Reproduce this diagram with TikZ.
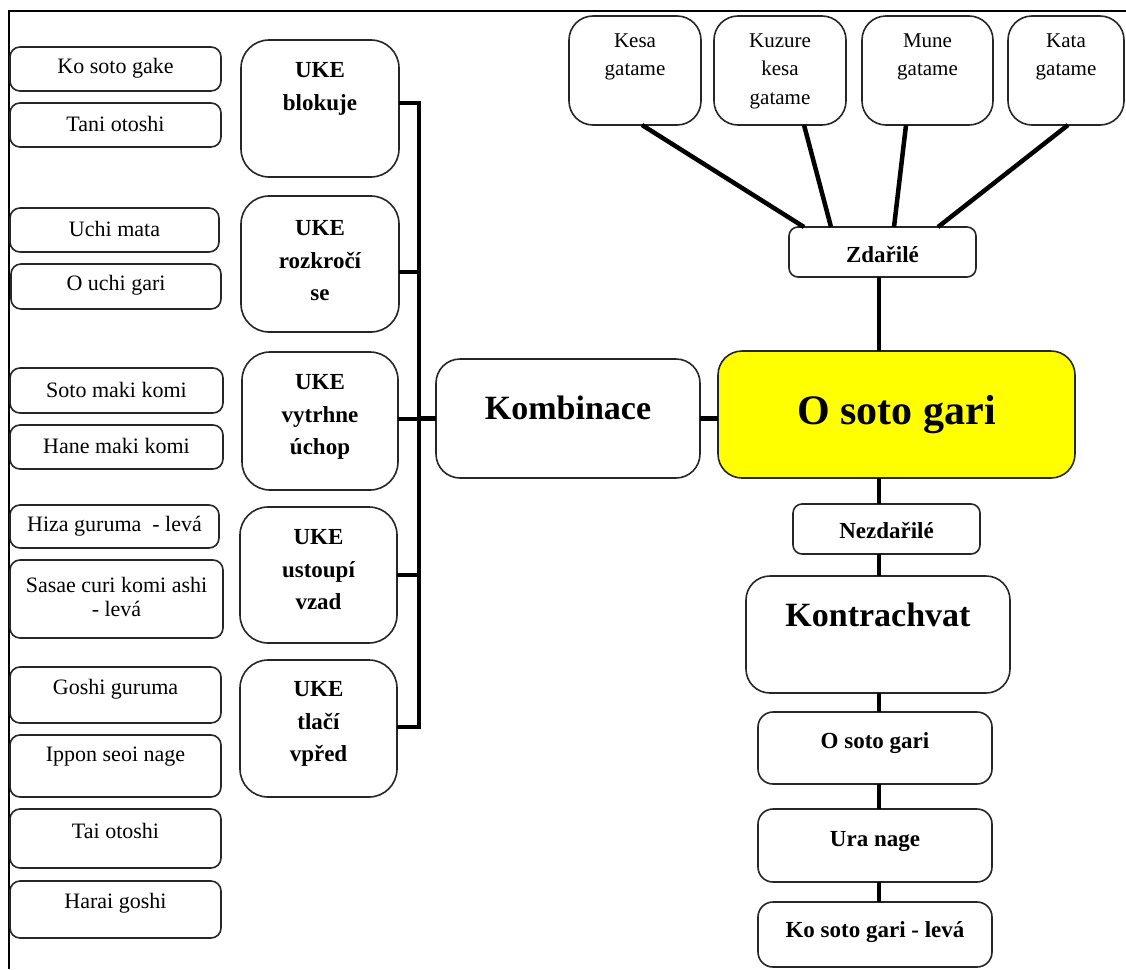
\documentclass[tikz,border=0pt]{standalone}
\usepackage{fontspec}
\setmainfont{Liberation Serif}
\usetikzlibrary{calc}
% #1 box style, #2 text style, #3 name, #4-#7 corners (x1,y1,x2,y2), #8 text centre y, #9 text
\newcommand\rbox[9]{%
  \node[#1, minimum width={#6-#4}, minimum height={#7-#5}] (#3) at ({(#4+#6)/2},{(#5+#7)/2}) {};
  \node[#2] (#3-t) at ({(#4+#6)/2},#8) {#9};}
\begin{document}
\begin{tikzpicture}[x=1pt,y=-1pt,
  box/.style={draw=black!85, line width=1.6pt, fill=white, inner sep=0pt, outer sep=0pt},
  lbox/.style={box, rounded corners=10pt},
  ubox/.style={box, rounded corners=28pt},
  topbox/.style={box, rounded corners=24pt},
  cbox/.style={box, rounded corners=24pt},
  mbox/.style={box, rounded corners=24pt, fill={rgb,255:red,255;green,255;blue,0}},
  sbox/.style={box, rounded corners=9pt},
  rbox/.style={box, rounded corners=15pt},
  txtL/.style={font=\fontsize{22}{24}\selectfont, align=center, inner sep=0pt},
  txtT/.style={font=\fontsize{21}{28.5}\selectfont, align=center, inner sep=0pt},
  txtU/.style={font=\bfseries\fontsize{23}{32.5}\selectfont, align=center, inner sep=0pt},
  txtS/.style={font=\bfseries\fontsize{23}{26}\selectfont, align=center, inner sep=0pt},
  txtK/.style={font=\bfseries\fontsize{34}{38}\selectfont, align=center, inner sep=0pt},
  txtM/.style={font=\bfseries\fontsize{42}{46}\selectfont, align=center, inner sep=0pt},
  link/.style={line width=4.5pt, black, line join=miter},
  frame/.style={line width=1.8pt, black}]
\useasboundingbox (0,0) rectangle (1126,969);

% outer frame (top and left edges)
\draw[frame] (9,969) -- (9,11) -- (1126,11);

% left column: follow-up throws
\rbox{lbox}{txtL}{a1}{10}{47}{221}{91}{68}{Ko soto gake}
\rbox{lbox}{txtL}{a2}{10}{103}{221}{147}{124}{Tani otoshi}
\rbox{lbox}{txtL}{a3}{10}{208}{219}{252}{229}{Uchi mata}
\rbox{lbox}{txtL}{a4}{11}{264}{221}{309}{285}{O uchi gari}
\rbox{lbox}{txtL}{a5}{10}{368}{223}{413}{390}{Soto maki komi}
\rbox{lbox}{txtL}{a6}{10}{425}{223}{469}{446}{Hane maki komi}
\rbox{lbox}{txtL}{a7}{10}{505}{219}{548}{526}{Hiza guruma\ \ - levá}
\rbox{lbox}{txtL}{a8}{10}{560}{223}{638}{597}{Sasae curi komi ashi\\- levá}
\rbox{lbox}{txtL}{a9}{10}{667}{221}{723}{689}{Goshi guruma}
\rbox{lbox}{txtL}{a10}{10}{735}{221}{797}{757}{Ippon seoi nage}
\rbox{lbox}{txtL}{a11}{10}{809}{221}{868}{831}{Tai otoshi}
\rbox{lbox}{txtL}{a12}{10}{881}{221}{938}{903}{Harai goshi}

% UKE reactions
\rbox{ubox}{txtU}{u1}{241}{40}{399}{177}{89}{UKE\\blokuje}
\rbox{ubox}{txtU}{u2}{241}{196}{399}{332}{261}{UKE\\rozkročí\\se}
\rbox{ubox}{txtU}{u3}{242}{352}{398}{490}{417}{UKE\\vytrhne\\úchop}
\rbox{ubox}{txtU}{u4}{240}{507}{397}{643}{570}{UKE\\ustoupí\\vzad}
\rbox{ubox}{txtU}{u5}{240}{660}{397}{797}{724}{UKE\\tlačí\\vpřed}

% hold-downs
\rbox{topbox}{txtT}{t1}{569}{16}{701}{125}{57}{Kesa\\gatame}
\rbox{topbox}{txtT}{t2}{714}{16}{846}{125}{71}{Kuzure\\kesa\\gatame}
\rbox{topbox}{txtT}{t3}{862}{16}{993}{125}{57}{Mune\\gatame}
\rbox{topbox}{txtT}{t4}{1008}{16}{1124}{125}{57}{Kata\\gatame}

% centre and right column
\rbox{cbox}{txtK}{komb}{436}{359}{700}{478}{408}{Kombinace}
\rbox{mbox}{txtM}{main}{718}{351}{1075}{478}{415}{O soto gari}
\rbox{sbox}{txtS}{zd}{789}{227}{976}{277}{254}{Zdařilé}
\rbox{sbox}{txtS}{nz}{793}{504}{980}{554}{530}{Nezdařilé}
\rbox{cbox}{txtK}{kontra}{746}{576}{1010}{693}{615}{Kontrachvat}
\rbox{rbox}{txtS}{r1}{758}{712}{992}{784}{743}{O soto gari}
\rbox{rbox}{txtS}{r2}{758}{809}{992}{882}{841}{Ura nage}
\rbox{rbox}{txtS}{r3}{758}{902}{992}{967}{932}{Ko soto gari - levá}

% connectors
\coordinate (bus) at (419,0);
\coordinate (spine) at (879,0);
\draw[link] ([yshift=5.5pt]u1.east) -| ([yshift=1.5pt]u5.east -| bus) -- ([yshift=1.5pt]u5.east);
\draw[link] ([yshift=-8pt]u2.east) -- ([yshift=-8pt]u2.east -| bus);
\draw[link] ([yshift=2pt]u3.east) -- ([yshift=2pt]u3.east -| bus);
\draw[link] (u4.east) -- (u4.east -| bus);
\draw[link] (komb.west) -- (komb.west -| bus);
\draw[link] (komb.east) -- (komb.east -| main.west);

\draw[link] ([xshift=7pt]t1.south) -- ([xshift=-78.5pt]zd.north);
\draw[link] ([xshift=24pt]t2.south) -- ([xshift=-51.5pt]zd.north);
\draw[link] ([xshift=-21.5pt]t3.south) -- ([xshift=11.5pt]zd.north);
\draw[link] ([xshift=2pt]t4.south) -- ([xshift=55.5pt]zd.north);

\draw[link] (zd.south -| spine) -- (main.north -| spine);
\draw[link] (main.south -| spine) -- (nz.north -| spine);
\draw[link] (nz.south -| spine) -- (kontra.north -| spine);
\draw[link] (kontra.south -| spine) -- (r1.north -| spine);
\draw[link] (r1.south -| spine) -- (r2.north -| spine);
\draw[link] (r2.south -| spine) -- (r3.north -| spine);
\end{tikzpicture}
\end{document}
